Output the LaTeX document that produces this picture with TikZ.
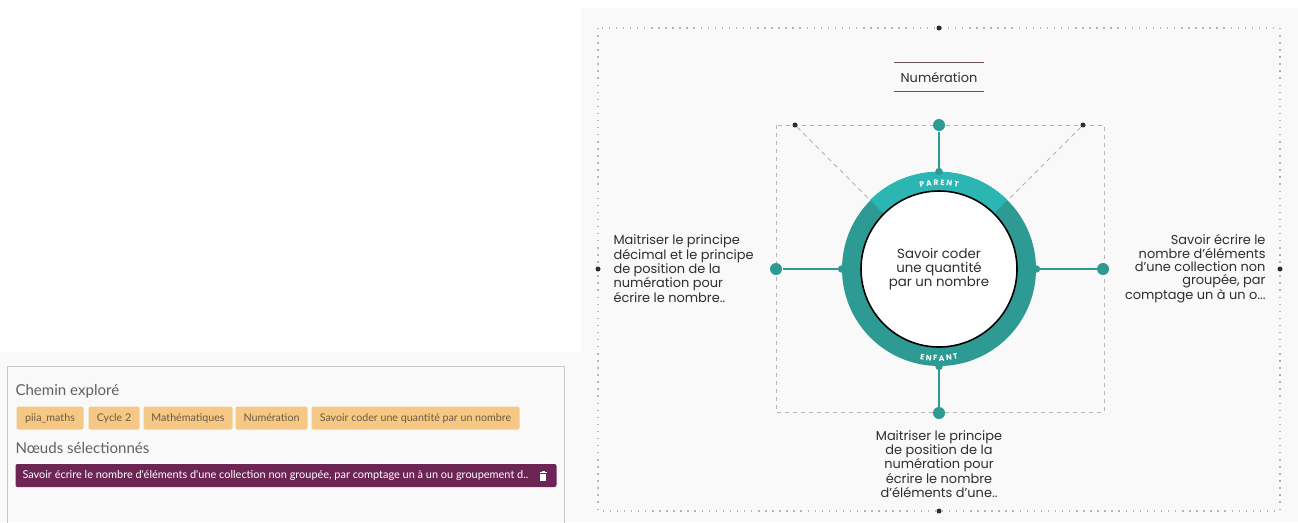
\documentclass[tikz,border=0pt]{standalone}
\usepackage{fontspec}
\setmainfont{Poppins}
\newfontfamily\panelfont{Lato}
\usetikzlibrary{decorations.text}

\definecolor{tealdark}{HTML}{2E9A94}
\definecolor{teallight}{HTML}{2BB5B3}
\definecolor{panelgray}{HTML}{F9F9F9}
\definecolor{framegray}{HTML}{C8C8C8}
\definecolor{dotgray}{HTML}{B5B5B5}
\definecolor{inkgray}{HTML}{2E2E2E}
\definecolor{tagfill}{HTML}{F5C985}
\definecolor{tagink}{HTML}{6E5A3E}
\definecolor{plum}{HTML}{6D2556}
\definecolor{titleline}{HTML}{6A4E5C}

\tikzset{every picture/.style={line width=0.75pt}}
\tikzset{
	tag/.style={fill=tagfill, rounded corners=1.5pt, anchor=west, minimum height=17.25pt, inner sep=0pt, font=\panelfont\fontsize{8}{9}\selectfont, text=tagink},
	heading/.style={anchor=west, inner sep=0pt, font=\panelfont\fontsize{11.3}{13}\selectfont, text=black!62},
	knob/.style={circle, fill=tealdark, inner sep=0pt, minimum size=9pt},
	bulb/.style={circle, fill=tealdark, inner sep=0pt, minimum size=5.5pt},
	pin/.style={circle, fill=inkgray, inner sep=0pt, minimum size=3.75pt},
	spoke/.style={draw=tealdark, line width=1.5pt},
	leaf/.style={inner sep=0pt, font=\fontsize{9.7}{10}\selectfont, text=inkgray},
}

\begin{document}
\begin{tikzpicture}[x=0.75pt,y=0.75pt,yscale=-1,xscale=1]

		\useasboundingbox (0,0) rectangle (1298,522);
		\fill [white] (0,0) rectangle (1298,522);
		\fill [panelgray] (581,8) rectangle (1298,522);
		\fill [panelgray] (0,352) rectangle (581,522);

		\draw [framegray] (7,523) -- (7,366) -- (564,366) -- (564,523);
		\draw [dotgray, line width=1.1pt, dash pattern=on 1.1pt off 4.2pt] (598,28) rectangle (1280,511);
		\draw [dotgray, dash pattern=on 3pt off 3pt] (776,125) rectangle (1104,412);

		\node [pin] (pinN) at (939,28) {};
		\node [pin] (pinS) at (939,511) {};
		\node [pin] (pinW) at (598,269) {};
		\node [pin] (pinE) at (1280,269) {};
		\node [pin] (cornerW) at (795,125) {};
		\node [pin] (cornerE) at (1083,125) {};

		\node [circle, fill=tealdark, inner sep=0pt, minimum size=145.5pt] (ring) at (939,269) {};
		\draw [black!30, dash pattern=on 3.5pt off 3pt] (cornerW) -- (ring.135);
		\draw [black!30, dash pattern=on 3.5pt off 3pt] (cornerE) -- (ring.45);
		\fill [teallight] (ring.center) -- (ring.135) arc [start angle=225, end angle=315, radius=97] -- cycle;
		\node [circle, draw=black, line width=1.2pt, fill=white, inner sep=0pt, minimum size=117pt, align=center, font=\fontsize{10}{10.5}\selectfont, text=inkgray] (core) at (939,269) {Savoir coder\\une quantité\\par un nombre};

		\begin{scope}[shift={(ring.center)}, yscale=-1]
			\path [decorate, decoration={text along path, text align=center, text color=white, text={|\fontsize{5.8}{6}\selectfont\bfseries|P A R E N T}}] (160:83.5) arc [start angle=160, end angle=20, radius=83.5];
			\path [decorate, decoration={text along path, text align=center, text color=white, text={|\fontsize{5.8}{6}\selectfont\bfseries|E N F A N T}}] (200:92) arc [start angle=200, end angle=340, radius=92];
		\end{scope}

		\node [knob] (knobN) at (939,125) {};
		\node [knob] (knobS) at (939,413) {};
		\node [knob] (knobW) at (776,269) {};
		\node [knob] (knobE) at (1103,269) {};
		\draw [spoke] (ring.north) -- (knobN);
		\draw [spoke] (ring.south) -- (knobS);
		\draw [spoke] (ring.west) -- (knobW);
		\draw [spoke] (ring.east) -- (knobE);
		\node [bulb] (bulbN) at (ring.north) {};
		\node [bulb] (bulbS) at (ring.south) {};
		\node [bulb] (bulbW) at (ring.west) {};
		\node [bulb] (bulbE) at (ring.east) {};

		\node [inner sep=0pt, minimum width=66.75pt, minimum height=21pt, font=\fontsize{9.7}{10}\selectfont, text=inkgray] (title) at (939,77) {Numération};
		\draw [titleline, line width=1.1pt] (title.north west) -- (title.north east);
		\draw [titleline, line width=1.1pt] (title.south west) -- (title.south east);

		\node [leaf, anchor=west, align=left] (leafW) at (613,269) {Maitriser le principe\\décimal et le principe\\de position de la\\numération pour\\écrire le nombre..};
		\node [leaf, anchor=east, align=right] (leafE) at (1266,269) {Savoir écrire le\\nombre d'éléments\\d'une collection non\\groupée, par\\comptage un à un o...};
		\node [leaf, align=center] (leafS) at (939,464) {Maitriser le principe\\de position de la\\numération pour\\écrire le nombre\\d'éléments d'une..};

		\node [heading] (pathhead) at (15,391) {Chemin exploré};
		\node [tag, minimum width=50.25pt] (tag1) at (16,418) {piia\_maths};
		\node [tag, minimum width=38.25pt] (tag2) at (88,418) {Cycle 2};
		\node [tag, minimum width=66.75pt] (tag3) at (143,418) {Mathématiques};
		\node [tag, minimum width=54pt] (tag4) at (235,418) {Numération};
		\node [tag, minimum width=156pt] (tag5) at (311,418) {Savoir coder une quantité par un nombre};
		\node [heading] (pickhead) at (15,448) {Nœuds sélectionnés};
		\node [tag, fill=plum, minimum width=405.75pt] (pickbar) at (15,475.5) {};
		\node [anchor=west, inner sep=0pt, font=\panelfont\fontsize{8.2}{9}\selectfont, text=white] (picktext) at (22,475.5) {Savoir écrire le nombre d'éléments d'une collection non groupée, par comptage un à un ou groupement d..};
		\fill [white] (539.5,471.5) rectangle (546.5,473);
		\fill [white] (541.5,470.5) rectangle (544.5,471.5);
		\fill [white] (540.3,473.6) rectangle (545.7,480.5);

	\end{tikzpicture}
\end{document}
